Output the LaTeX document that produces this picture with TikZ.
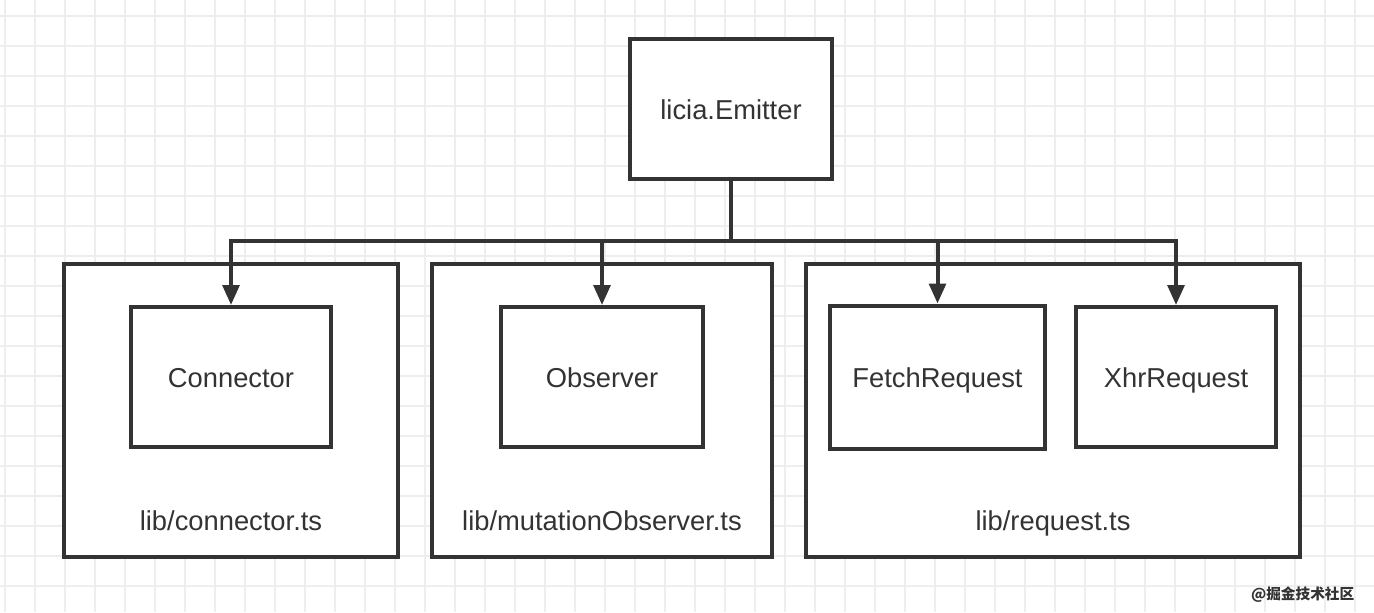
\documentclass[tikz,border=0pt]{standalone}
\usepackage{fontspec}
\setmainfont{Liberation Sans}
\newfontfamily\cjk{Noto Sans CJK SC}
\usetikzlibrary{arrows.meta}
\definecolor{boxgray}{HTML}{333333}
\definecolor{gridminor}{HTML}{EEEEEE}
\definecolor{gridmajor}{HTML}{E2E2E2}

\begin{document}
\begin{tikzpicture}[x=0.75pt, y=-0.75pt]
		\useasboundingbox (0,0) rectangle (1374,612);
		\fill[white] (0,0) rectangle (1374,612);
		% background grid
		\foreach \gx in {5,35,...,1374} \draw[gridminor, line width=1pt] (\gx,0) -- (\gx,612);
		\foreach \gy in {16,46,...,612} \draw[gridminor, line width=1pt] (0,\gy) -- (1374,\gy);
		
		\begin{scope}[every node/.style={draw=boxgray, line width=3pt, rectangle, fill=white, text=boxgray, font=\fontsize{20.5}{24}\selectfont, minimum height=105pt, inner sep=0, text height=15pt, text depth=0pt}]
		\node[minimum width=151.5pt] (emitter) at (731,109) {licia.Emitter};
		
		\node[minimum width=250.5pt, minimum height=219.75pt] (modconn) at (231,410.5) {};
		\node[minimum width=255pt, minimum height=219.75pt] (modobs) at (602,410.5) {};
		\node[minimum width=370.5pt, minimum height=219.75pt] (modreq) at (1053,410.5) {};
		
		\node[minimum width=150pt] (conn) at (231,377) {Connector};
		\node[minimum width=151.5pt] (obs) at (602,377) {Observer};
		\node[minimum width=161.25pt, minimum height=107.25pt] (fetch) at (937.5,377) {FetchRequest};
		\node[minimum width=150pt] (xhr) at (1176,377) {XhrRequest};
		\end{scope}
		
		\begin{scope}[every node/.style={text=boxgray, font=\fontsize{20.5}{24}\selectfont, text height=15pt, text depth=0pt}]
		\node (fconn) at (231,520) {lib/connector.ts};
		\node (fobs) at (602,520) {lib/mutationObserver.ts};
		\node (freq) at (1053,520) {lib/request.ts};
		\end{scope}
		
		\coordinate (bus) at (731,241);
		\draw[boxgray, line width=3pt] (emitter.south) -- (bus);
		\draw[-{Triangle[length=15pt,width=12.5pt]}, boxgray, line width=3pt] (bus) -| (conn.north);
		\draw[-{Triangle[length=15pt,width=12.5pt]}, boxgray, line width=3pt] (bus) -| (obs.north);
		\draw[-{Triangle[length=15pt,width=12.5pt]}, boxgray, line width=3pt] (bus) -| (fetch.north);
		\draw[-{Triangle[length=15pt,width=12.5pt]}, boxgray, line width=3pt] (bus) -| (xhr.north);
		
		\node[text=boxgray, font=\cjk\bfseries\fontsize{11}{13}\selectfont, anchor=east] (mark) at (1359,595) {@掘金技术社区};
		\end{tikzpicture}
\end{document}
